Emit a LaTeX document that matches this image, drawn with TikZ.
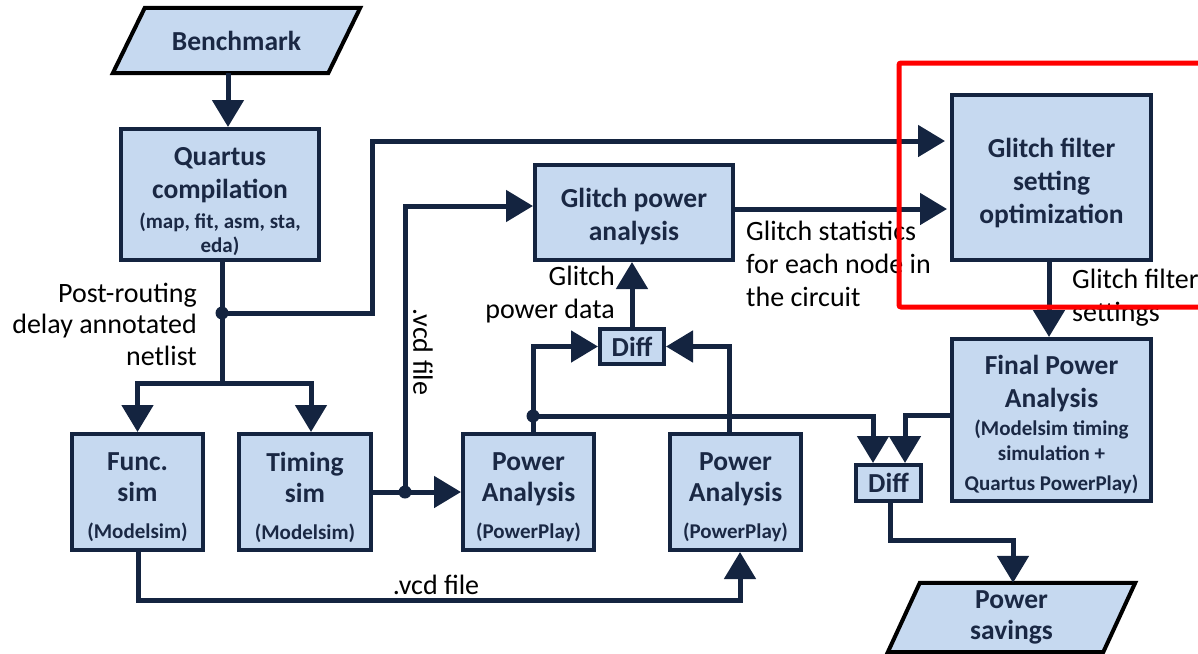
\documentclass[tikz,border=0pt]{standalone}
\usepackage{fontspec}
\setmainfont{Carlito}
\usetikzlibrary{arrows.meta,calc}
\definecolor{boxfill}{RGB}{198,217,240}
\definecolor{navy}{RGB}{20,36,64}
\definecolor{boxtext}{RGB}{26,40,68}
\definecolor{hl}{RGB}{255,0,0}
\pgfdeclarelayer{background}
\pgfsetlayers{background,main}
\newcommand\subtxt{\fontsize{21}{25}\selectfont}
% invisible strut that lowers a box's text block
\newcommand\topgap[1]{\rule{0pt}{#1}}

\begin{document}
\begin{tikzpicture}[x=1pt,y=-1pt,
  box/.style={draw=navy, line width=4pt, fill=boxfill, text=boxtext,
    font=\bfseries\fontsize{27.5}{33}\selectfont, align=center, inner sep=2pt},
  para/.style={text=boxtext, font=\bfseries\fontsize{27.5}{32}\selectfont,
    align=center, inner sep=0pt, minimum width=215pt},
  paraedge/.style={draw=black, line width=4pt, fill=boxfill, line join=miter},
  plabel/.style={font=\fontsize{28}{33}\selectfont, text=black, inner sep=0pt},
  wire/.style={draw=navy, line width=5pt},
  arr/.style={wire, -{Triangle[length=27pt,width=31pt]}},
]
\useasboundingbox (0,0) rectangle (1198,653);

% ---------- input / output parallelograms ----------
\node[para, minimum height=65pt] (bench) at (236.5,40.5) {Benchmark};
\node[para, minimum height=69pt] (PS) at (1011.5,617.5) {Power\\[-1pt]savings};
\begin{pgfonlayer}{background}
  \draw[paraedge] ([xshift=16pt]bench.north west) -- ([xshift=16pt]bench.north east)
    -- ([xshift=-16pt]bench.south east) -- ([xshift=-16pt]bench.south west) -- cycle;
  \draw[paraedge] ([xshift=16pt]PS.north west) -- ([xshift=16pt]PS.north east)
    -- ([xshift=-16pt]PS.south east) -- ([xshift=-16pt]PS.south west) -- cycle;
\end{pgfonlayer}

% ---------- process boxes ----------
\node[box, minimum width=198pt, minimum height=131pt] (Q) at (220,194.5)
  {\topgap{32pt}Quartus\\compilation\\[-3pt]\subtxt (map, fit, asm, sta,\\[-9pt]\subtxt eda)};
\node[box, minimum width=198pt, minimum height=95pt] (GP) at (634,212.5)
  {\topgap{27pt}Glitch power\\analysis};
\node[box, minimum width=199pt, minimum height=165pt] (GF) at (1051.5,177.5)
  {\topgap{31pt}Glitch filter\\setting\\optimization};
\node[box, minimum width=199pt, minimum height=162pt] (FP) at (1051.5,420)
  {\topgap{28pt}Final Power\\Analysis\\[-5pt]\subtxt (Modelsim timing\\[-8pt]\subtxt simulation +\\[-3pt]\subtxt Quartus PowerPlay)};
\node[box, minimum width=131pt, minimum height=116pt] (F) at (137.5,492)
  {\topgap{29pt}Func.\\[-2pt]sim\\[4pt]\subtxt (Modelsim)};
\node[box, minimum width=132pt, minimum height=116pt] (T) at (305,492)
  {\topgap{30pt}Timing\\[-2pt]sim\\[4pt]\subtxt (Modelsim)};
\node[box, minimum width=131pt, minimum height=116pt] (PA1) at (528.5,492)
  {\topgap{29pt}Power\\[-2pt]Analysis\\[4pt]\subtxt (PowerPlay)};
\node[box, minimum width=131pt, minimum height=116pt] (PA2) at (735.5,492)
  {\topgap{29pt}Power\\[-2pt]Analysis\\[4pt]\subtxt (PowerPlay)};
\node[box, minimum width=64pt, minimum height=35pt, inner sep=0pt] (D1) at (632,346.5) {Diff};
\node[box, minimum width=65pt, minimum height=36pt, inner sep=0pt] (D2) at (888.5,483) {Diff};

% ---------- routing points ----------
\coordinate (j1) at (222,313);
\coordinate (br) at (222,383);
\coordinate (c1) at (372,141);
\coordinate (j2) at (405,492);
\coordinate (c2) at (405,206);
\coordinate (c3) at (735,209);
\coordinate (j3) at (533,416);
\coordinate (c4) at (729,348);
\coordinate (c5) at (873,416);
\coordinate (c6) at (905,415);
\coordinate (c7) at (890,540);
\coordinate (c8) at (1013,540);
\coordinate (c9) at (1049,300);
\coordinate (c10) at (138,600);
\coordinate (c11) at (740,600);

% ---------- connectors ----------
\draw[arr] ([xshift=-8.5pt]bench.south) -- ([xshift=8pt]Q.north);
\draw[wire] ([xshift=2pt]Q.south) -- (br);
\draw[arr] (br) -| (F.north);
\draw[arr] (br) -| ([xshift=6pt]T.north);
\draw[arr, shorten >=5pt] (j1) -| (c1) -- (c1 -| GF.west);
\draw[arr] (T.east) -- (PA1.west);
\draw[arr] (j2) -- (c2) -- (c2 -| GP.west);
\draw[arr, shorten >=3pt] (c3 -| GP.east) -- (c3 -| GF.west);
\draw[arr] (D1.north) -- (D1.north |- GP.south);
\draw[wire] (PA1.north -| j3) -- (j3);
\draw[arr] (j3) |- (D1.west);
\draw[arr] (PA2.north -| c4) |- (D1.east);
\draw[arr] (j3) -- (c5) -- (c5 |- D2.north);
\draw[arr] (FP.west |- c6) -- (c6) -- (c6 |- D2.north);
\draw[arr] (D2.south -| c7) -- (c7) -- (c8) -- (c8 |- PS.north);
\draw[arr] (GF.south -| c9) -- (FP.north -| c9);
\draw[arr] (F.south -| c10) -- (c10) -- (c11) -- (PA2.south -| c11);

% junction dots
\fill[navy] (j1) circle (6.5pt);
\fill[navy] (j2) circle (6.5pt);
\fill[navy] (j3) circle (6.5pt);

% ---------- labels ----------
\node[plabel, align=right, anchor=east] (lnet) at (197,324)
  {Post-routing\\[-1.5pt]delay annotated\\[-1.5pt]netlist};
\node[plabel, rotate=-90] (lvcd1) at (423,352) {.vcd file};
\node[plabel, align=right, anchor=east] (lgpd) at (615,295) {Glitch\\power data};
\node[plabel, align=left, anchor=west] (lstat) at (746,264)
  {Glitch statistics\\for each node in\\the circuit};
\node[plabel, align=left, anchor=west] (lset) at (1072,298) {Glitch filter\\settings};
\node[plabel] (lvcd2) at (436,585) {.vcd file};

% ---------- highlight frame ----------
\draw[hl, line width=5pt, rounded corners=2pt]
  (1215,63) -- (899,63) -- (899,307) -- (1215,307);
\end{tikzpicture}
\end{document}
